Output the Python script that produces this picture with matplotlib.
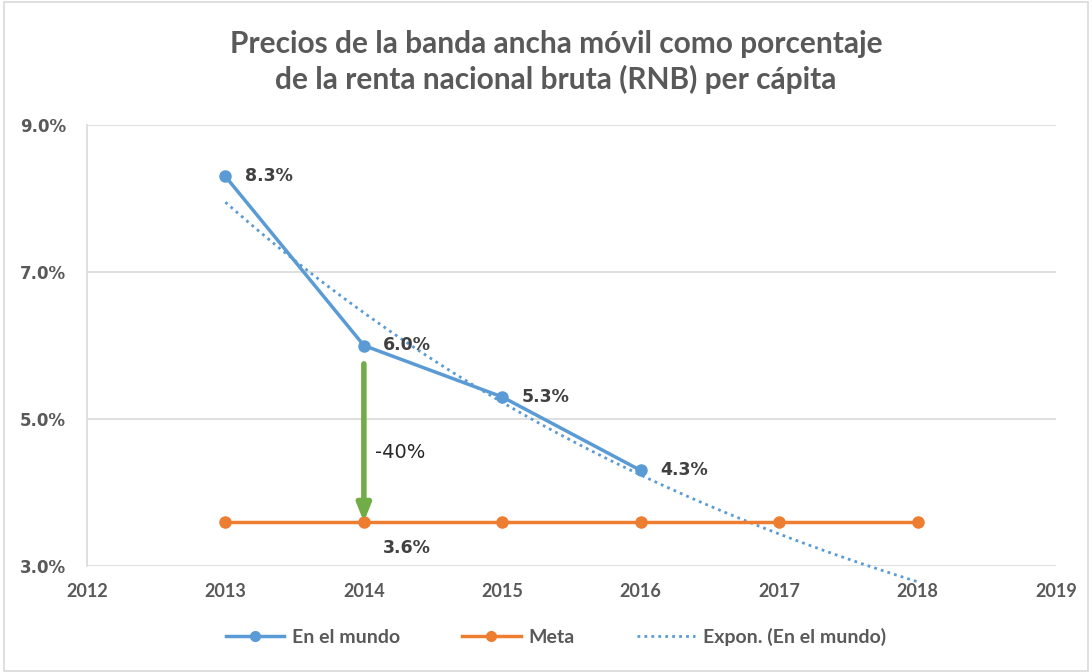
import numpy as np
import matplotlib
matplotlib.use("Agg")
import matplotlib.pyplot as plt
from matplotlib.lines import Line2D

years = [2013, 2014, 2015, 2016]
mundo = [8.3, 6.0, 5.3, 4.3]
meta_years = [2013, 2014, 2015, 2016, 2017, 2018]
meta = [3.6, 3.6, 3.6, 3.6, 3.6, 3.6]
mundo_labels = ["8.3%", "6.0%", "5.3%", "4.3%"]
meta_label = "3.6%"
reduction_label = "-40%"
title = "Precios de la banda ancha móvil como porcentaje\nde la renta nacional bruta (RNB) per cápita"
yticks = [3.0, 5.0, 7.0, 9.0]
xticks = [2012, 2013, 2014, 2015, 2016, 2017, 2018, 2019]

BLUE = "#5B9BD5"
ORANGE = "#ED7D31"
GREEN = "#70AD47"
GRID = "#D9D9D9"
TXT = "#404040"
TTL = "#595959"

fig = plt.figure(figsize=(10.92, 6.72), dpi=100)
ax = fig.add_axes([87/1092, 1-566/672, (1056-87)/1092, (566-125)/672])

# exponential trend (least squares on log values, Excel-like), forecast 2 periods
xi = np.arange(1, len(mundo) + 1)
b, a = np.polyfit(xi, np.log(mundo), 1)
xt = np.linspace(1, len(mundo) + 2, 100)
yt = np.exp(a + b * xt)
ax.plot(years[0] + xt - 1, yt, color=BLUE, lw=2, ls=(0, (1, 1.5)), clip_on=False, zorder=3)

ax.plot(years, mundo, color=BLUE, lw=2.5, marker="o", ms=8, zorder=4)
ax.plot(meta_years, meta, color=ORANGE, lw=2.5, marker="o", ms=8, zorder=4)

for x, y, s in zip(years, mundo, mundo_labels):
    ax.annotate(s, (x, y), xytext=(14, 0), textcoords="offset points",
                ha="left", va="center", fontsize=12.5, fontweight="bold",
                color=TXT, family="DejaVu Sans", zorder=5)
ax.annotate(meta_label, (meta_years[1], meta[1]), xytext=(14, -19), textcoords="offset points",
            ha="left", va="center", fontsize=12.5, fontweight="bold", color=TXT,
            family="DejaVu Sans")

# arrow
ax.annotate("", xy=(years[1], meta[1]), xytext=(years[1], mundo[1] - 0.25),
            arrowprops=dict(arrowstyle="-|>,head_width=0.4,head_length=1.0",
                            color=GREEN, lw=4, shrinkA=0, shrinkB=0), zorder=5)
ax.text(years[1] + 0.08, 4.55, reduction_label, fontsize=14, color="#262626",
        family="DejaVu Sans", va="center", ha="left")

ax.set_xlim(2012, 2019)
ax.set_ylim(3.0, 9.0)
ax.set_xticks(xticks)
ax.set_yticks(yticks)
ax.set_yticklabels([f"{v:.1f}%" for v in yticks], fontsize=12, fontweight="bold",
                   color=TTL, family="DejaVu Sans")
ax.set_xticklabels([str(v) for v in xticks], fontsize=13, fontweight="bold",
                   color=TTL, family="Lato")
ax.tick_params(axis="both", length=0)
ax.tick_params(axis="y", pad=15)
ax.tick_params(axis="x", pad=12)
ax.grid(axis="y", color=GRID, lw=1.2)
ax.set_axisbelow(True)
for side in ["top", "right"]:
    ax.spines[side].set_visible(False)
ax.spines["bottom"].set_visible(False)
ax.spines["left"].set_color(GRID)
ax.spines["left"].set_linewidth(1.2)

fig.text(556/1092, 1-62/672, title, ha="center", va="center", fontsize=21.5,
         fontweight="bold", color=TTL, family="Lato", linespacing=1.3)

handles = [
    Line2D([], [], color=BLUE, lw=2.5, marker="o", ms=7),
    Line2D([], [], color=ORANGE, lw=2.5, marker="o", ms=7),
    Line2D([], [], color=BLUE, lw=2, ls=(0, (1, 1.5))),
]
leg = fig.legend(handles, ["En el mundo", "Meta", "Expon. (En el mundo)"],
                 loc="center", bbox_to_anchor=(556/1092, 1-637/672), ncol=3,
                 frameon=False, prop={"family": "Lato", "size": 14, "weight": "bold"},
                 handlelength=3.0, columnspacing=3.2, handletextpad=0.4)
for t in leg.get_texts():
    t.set_color(TTL)

# chart border
fig.patches.append(plt.Rectangle((4/1092, 0.002), 1-8/1092, 0.995, transform=fig.transFigure,
                                 fill=False, edgecolor=GRID, lw=1.2))

fig.savefig("out.png", dpi=100, facecolor="white")
